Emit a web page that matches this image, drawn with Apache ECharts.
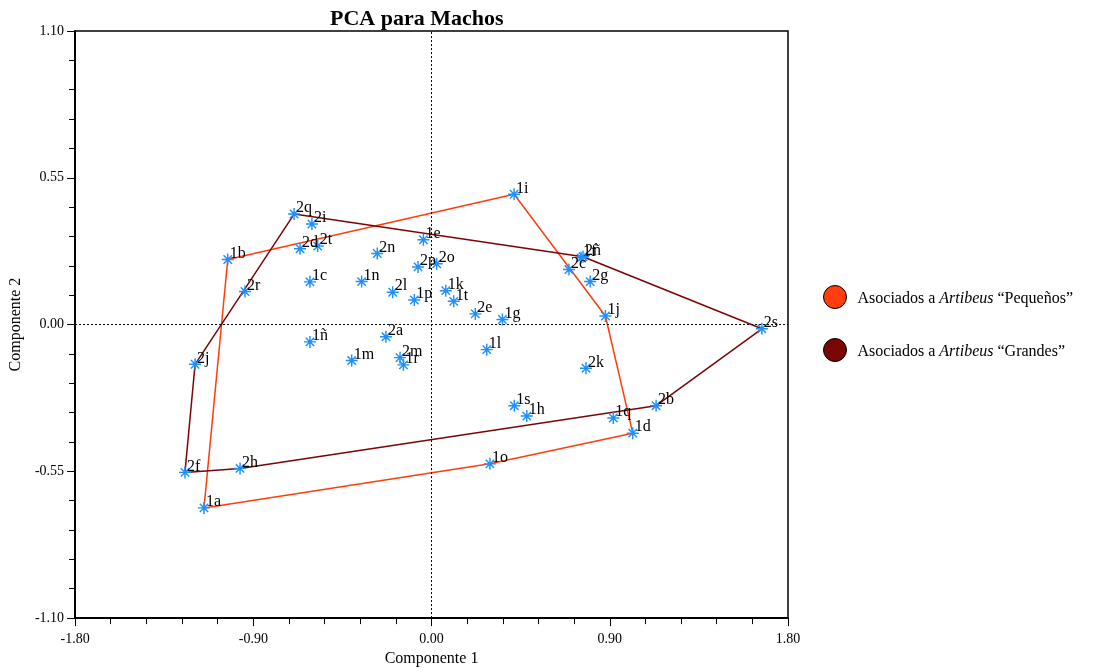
<!DOCTYPE html>
<html>
<head>
<meta charset="utf-8">
<script src="https://cdn.jsdelivr.net/npm/echarts@6/dist/echarts.min.js"></script>
<style>html,body{margin:0;padding:0;background:#fff}#c{width:1097px;height:672px}</style>
</head>
<body>
<div id="c"></div>
<script>
// Grupo 1 (Artibeus "Pequeños")
const g1Labels = ['1a','1b','1c','1d','1e','1f','1g','1h','1i','1j','1k','1l','1m','1n','1ñ','1o','1p','1q','1r','1s','1t'];
const g1X = [-1.149,-1.029,-0.614,1.016,-0.041,0.755,0.358,0.481,0.417,0.878,0.072,0.279,-0.403,-0.353,-0.614,0.295,-0.087,0.918,-0.142,0.418,0.112];
const g1Y = [-0.687,0.244,0.160,-0.407,0.318,0.250,0.019,-0.343,0.488,0.032,0.127,-0.094,-0.135,0.161,-0.065,-0.522,0.092,-0.350,-0.151,-0.304,0.087];
// Grupo 2 (Artibeus "Grandes")
const g2Labels = ['2a','2b','2c','2d','2e','2f','2g','2h','2i','2j','2k','2l','2m','2n','2ñ','2o','2p','2q','2r','2s','2t'];
const g2X = [-0.230,1.134,0.694,-0.664,0.221,-1.245,0.801,-0.967,-0.604,-1.194,0.780,-0.196,-0.159,-0.274,0.765,0.026,-0.068,-0.694,-0.942,1.668,-0.575];
const g2Y = [-0.046,-0.304,0.206,0.284,0.040,-0.554,0.161,-0.539,0.377,-0.149,-0.164,0.121,-0.124,0.266,0.254,0.228,0.216,0.414,0.124,-0.016,0.294];
// Polígonos convexos (orden de vértices)
const hull1 = ['1b','1i','1j','1d','1o','1a','1b'];
const hull2 = ['2q','2ñ','2s','2b','2h','2f','2j','2q'];
// Ejes
const xTicks = [-1.8, 1.8, 0.9];
const yTicks = [-1.1, 1.1, 0.55];
const legendNames = ['Asociados a Artibeus “Pequeños”', 'Asociados a Artibeus “Grandes”'];

const FONT = 'Liberation Serif';
const STAR = 'path://M44 0L56 0L56 100L44 100Z M0 44L100 44L100 56L0 56Z M10.8 19.2L19.2 10.8L89.2 80.8L80.8 89.2Z M80.8 10.8L89.2 19.2L19.2 89.2L10.8 80.8Z';

function pts(labels, xs, ys){ return labels.map((l,i)=>({name:l, value:[xs[i], ys[i]]})); }
function hullPts(order, labels, xs, ys){ return order.map(l=>{ const i = labels.indexOf(l); return [xs[i], ys[i]]; }); }
function fmt(v){ return Math.abs(v) < 1e-9 ? '0.00' : v.toFixed(2); }

const labelCfg = {show:true, formatter:'{b}', position:[8,0], align:'left', verticalAlign:'middle', color:'#000', fontFamily:FONT, fontSize:16};

const chart = echarts.init(document.getElementById('c'), null, {renderer:'canvas'});
chart.setOption({
  animation:false,
  backgroundColor:'#fff',
  title:{text:'PCA para Machos', left:325, top:3, textStyle:{fontFamily:FONT, fontWeight:'bold', fontSize:22, color:'#000'}},
  grid:{left:75, right:309, top:31, bottom:47, show:true, borderColor:'#000', borderWidth:1.5, backgroundColor:'#fff'},
  legend:{
    orient:'vertical', left:823, top:285, padding:0, itemWidth:23, itemHeight:23, itemGap:29,
    data:[{name:legendNames[0], icon:'circle'},{name:legendNames[1], icon:'circle'}],
    itemStyle:{borderColor:'#000', borderWidth:1},
    formatter: n => n.replace('Artibeus', '{i|Artibeus}'),
    textStyle:{fontFamily:FONT, fontSize:16, color:'#000', padding:[4,0,0,6],
      rich:{i:{fontFamily:FONT, fontSize:16, fontStyle:'italic', color:'#000'}}}
  },
  xAxis:{
    type:'value', min:xTicks[0], max:xTicks[1], interval:xTicks[2],
    axisLine:{onZero:false, lineStyle:{color:'#000', width:2}},
    axisTick:{length:8, lineStyle:{color:'#000', width:1}},
    minorTick:{show:true, splitNumber:5, length:6, lineStyle:{color:'#000', width:1}},
    splitLine:{show:false}, minorSplitLine:{show:false},
    axisLabel:{formatter:fmt, color:'#000', fontFamily:FONT, fontSize:14, margin:14},
    name:'Componente 1', nameLocation:'middle', nameGap:32,
    nameTextStyle:{fontFamily:FONT, fontSize:16, color:'#000'}
  },
  yAxis:{
    type:'value', min:yTicks[0], max:yTicks[1], interval:yTicks[2],
    axisLine:{onZero:false, lineStyle:{color:'#000', width:2}},
    axisTick:{length:8, lineStyle:{color:'#000', width:1}},
    minorTick:{show:true, splitNumber:5, length:6, lineStyle:{color:'#000', width:1}},
    splitLine:{show:false}, minorSplitLine:{show:false},
    axisLabel:{formatter:fmt, color:'#000', fontFamily:FONT, fontSize:14, margin:11},
    name:'Componente 2', nameLocation:'middle', nameGap:43,
    nameTextStyle:{fontFamily:FONT, fontSize:16, color:'#000'}
  },
  series:[
    {name:legendNames[0], type:'line', data:hullPts(hull1, g1Labels, g1X, g1Y), symbol:'none',
     lineStyle:{color:'#FF3D0D', width:1.5}, itemStyle:{color:'#FF3D0D'}, z:3, silent:true},
    {name:legendNames[1], type:'line', data:hullPts(hull2, g2Labels, g2X, g2Y), symbol:'none',
     lineStyle:{color:'#7A0505', width:1.5}, itemStyle:{color:'#7A0505'}, z:3, silent:true},
    {name:'g1', type:'scatter', data:pts(g1Labels, g1X, g1Y), symbol:STAR, symbolSize:12,
     itemStyle:{color:'#1E90FF', opacity:1}, label:labelCfg, z:4,
     markLine:{silent:true, symbol:['none','none'], label:{show:false},
       lineStyle:{color:'#000', type:[2,2], width:1}, data:[{xAxis:0},{yAxis:0}]}},
    {name:'g2', type:'scatter', data:pts(g2Labels, g2X, g2Y), symbol:STAR, symbolSize:12,
     itemStyle:{color:'#1E90FF', opacity:1}, label:labelCfg, z:4}
  ]
});
</script>
</body>
</html>
